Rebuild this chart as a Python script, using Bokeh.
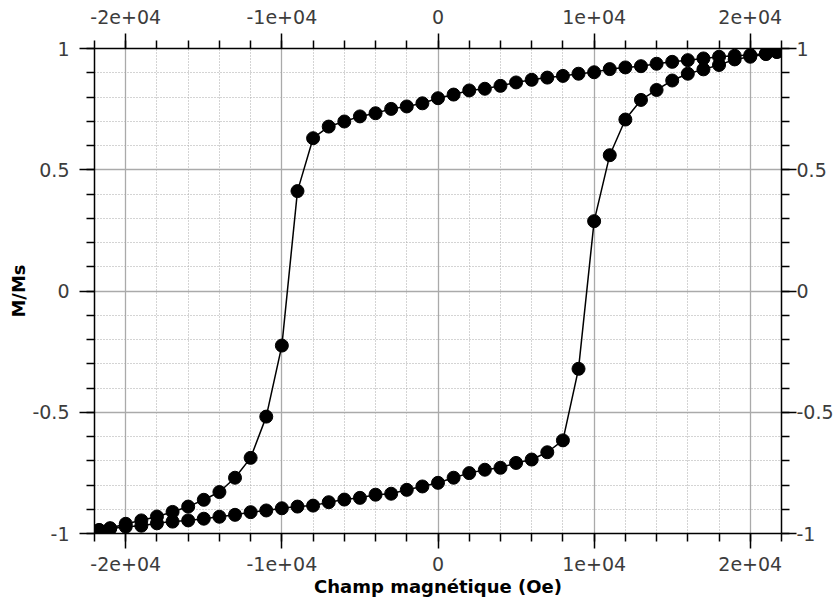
from bokeh.plotting import figure
from bokeh.models import LinearAxis, SingleIntervalTicker, Range1d, Grid
from bokeh.embed import file_html
from bokeh.resources import INLINE

# Descending branch (field decreasing from +sat to -sat)
h_desc = [21700, 21000, 20000, 19000, 18000, 17000, 16000, 15000, 14000, 13000,
          12000, 11000, 10000, 9000, 8000, 7000, 6000, 5000, 4000, 3000,
          2000, 1000, 0, -1000, -2000, -3000, -4000, -5000, -6000, -7000,
          -8000, -9000, -10000, -11000, -12000, -13000, -14000, -15000, -16000, -17000,
          -18000, -19000, -20000, -21000, -21700]
m_desc = [0.986, 0.979, 0.973, 0.970, 0.966, 0.959, 0.952, 0.945, 0.937, 0.927,
          0.922, 0.915, 0.902, 0.896, 0.887, 0.880, 0.871, 0.860, 0.846, 0.834,
          0.827, 0.810, 0.795, 0.774, 0.761, 0.751, 0.733, 0.720, 0.699, 0.678,
          0.630, 0.412, -0.225, -0.518, -0.688, -0.770, -0.829, -0.861, -0.889, -0.911,
          -0.930, -0.946, -0.960, -0.978, -0.986]

# Ascending branch (field increasing from -sat to +sat)
h_asc = [-21700, -21000, -20000, -19000, -18000, -17000, -16000, -15000, -14000, -13000,
         -12000, -11000, -10000, -9000, -8000, -7000, -6000, -5000, -4000, -3000,
         -2000, -1000, 0, 1000, 2000, 3000, 4000, 5000, 6000, 7000,
         8000, 9000, 10000, 11000, 12000, 13000, 14000, 15000, 16000, 17000,
         18000, 19000, 20000, 21000, 21700]
m_asc = [-0.986, -0.980, -0.972, -0.968, -0.958, -0.951, -0.946, -0.939, -0.931, -0.923,
         -0.912, -0.905, -0.896, -0.889, -0.885, -0.871, -0.860, -0.853, -0.840, -0.836,
         -0.820, -0.806, -0.791, -0.770, -0.751, -0.737, -0.729, -0.709, -0.695, -0.665,
         -0.616, -0.321, 0.288, 0.560, 0.707, 0.788, 0.829, 0.868, 0.896, 0.914,
         0.932, 0.955, 0.966, 0.977, 0.986]

x_tick_values = [-20000, -10000, 0, 10000, 20000]
x_tick_labels = ["-2e+04", "-1e+04", "0", "1e+04", "2e+04"]
y_tick_values = [-1, -0.5, 0, 0.5, 1]
y_tick_labels = ["-1", "-0.5", "0", "0.5", "1"]

x_title = "Champ magnétique (Oe)"
y_title = "M/Ms"

h_all = h_desc + h_asc
m_all = m_desc + m_asc

p = figure(width=836, height=601,
           x_range=Range1d(-22000, 22000), y_range=Range1d(-1, 1),
           x_axis_type=None, y_axis_type=None,
           output_backend="svg", toolbar_location=None,
           min_border_left=94, min_border_right=53,
           min_border_top=48, min_border_bottom=68)
p.outline_line_color = None
p.background_fill_color = "white"
p.border_fill_color = "white"

xt = SingleIntervalTicker(interval=10000, num_minor_ticks=5)
yt = SingleIntervalTicker(interval=0.5, num_minor_ticks=5)

x_over = {v: l for v, l in zip(x_tick_values, x_tick_labels)}
y_over = {v: l for v, l in zip(y_tick_values, y_tick_labels)}

bottom = LinearAxis()
left = LinearAxis()
top = LinearAxis()
right = LinearAxis()


def style(ax, ticker, over, standoff):
    ax.ticker = ticker
    ax.major_label_overrides = over
    ax.axis_line_color = "black"
    ax.axis_line_width = 1.5
    ax.major_tick_line_color = "black"
    ax.major_tick_line_width = 1.5
    ax.minor_tick_line_color = "black"
    ax.minor_tick_line_width = 1.5
    ax.major_tick_in = 0
    ax.major_tick_out = 15
    ax.minor_tick_in = 0
    ax.minor_tick_out = 8
    ax.major_label_text_font = "DejaVu Sans"
    ax.major_label_text_font_size = "19px"
    ax.major_label_text_color = "#3c3c3c"
    ax.major_label_standoff = standoff


style(bottom, xt, x_over, 8)
style(top, xt, x_over, 10)
style(left, yt, y_over, 10)
style(right, yt, y_over, 0)

bottom.axis_label = x_title
left.axis_label = y_title
for ax in (bottom, left):
    ax.axis_label_text_font = "DejaVu Sans"
    ax.axis_label_text_font_style = "bold"
    ax.axis_label_text_font_size = "18px"
    ax.axis_label_text_color = "black"
bottom.axis_label_standoff = 2
left.axis_label_standoff = 0

p.add_layout(bottom, "below")
p.add_layout(left, "left")
p.add_layout(top, "above")
p.add_layout(right, "right")

xgrid = Grid(dimension=0, ticker=xt)
ygrid = Grid(dimension=1, ticker=yt)
for g in (xgrid, ygrid):
    g.grid_line_color = "#aaaaaa"
    g.grid_line_width = 1.3
    g.minor_grid_line_color = "#a8a8a8"
    g.minor_grid_line_width = 1
    g.minor_grid_line_dash = "1 2"
    p.add_layout(g)

p.line(h_all, m_all, line_color="black", line_width=1.5)
p.scatter(h_all, m_all, size=13, fill_color="black", line_color="black")

open("out.html", "w").write(file_html(p, INLINE))
